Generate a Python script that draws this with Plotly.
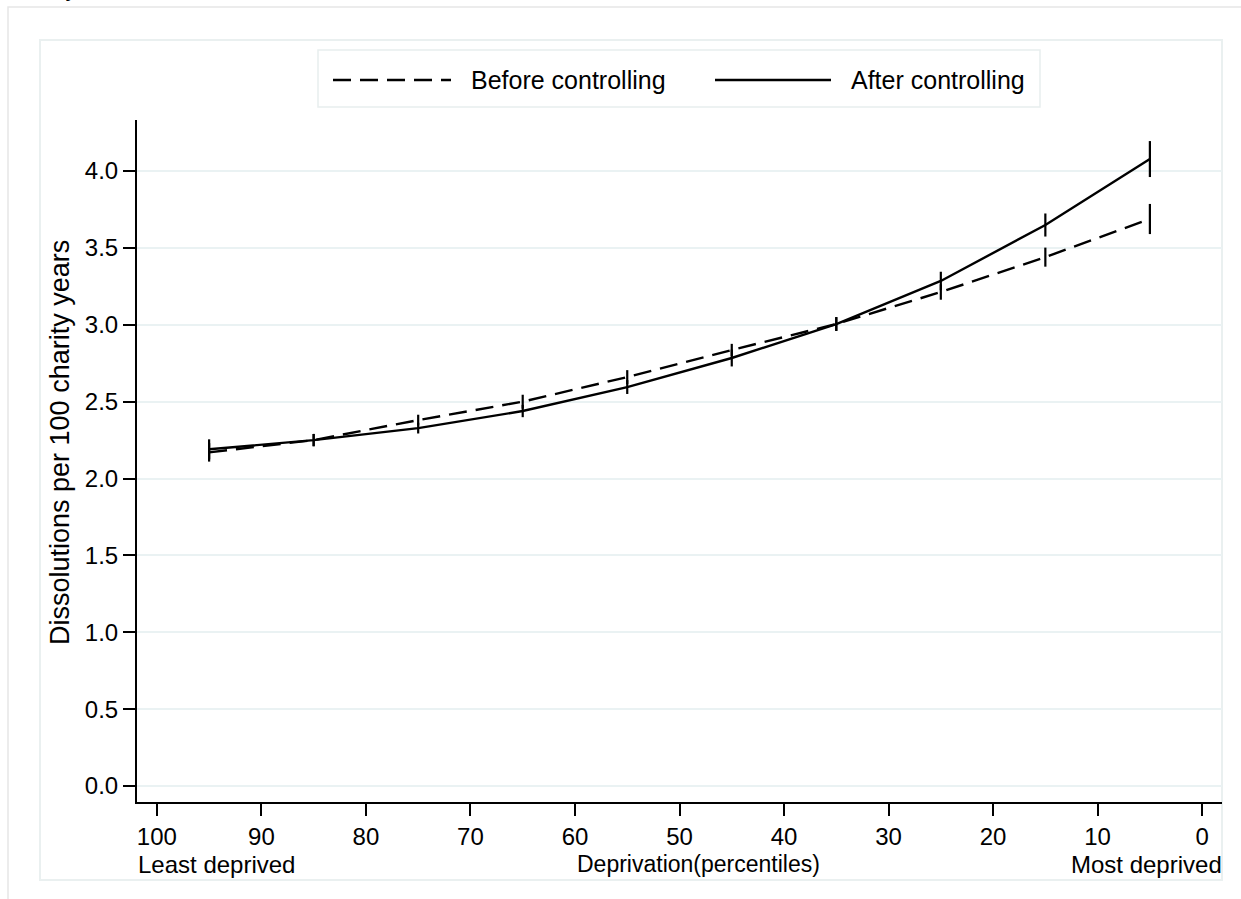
import plotly.graph_objects as go

# ---- data ----
percentile = [95, 85, 75, 65, 55, 45, 35, 25, 15, 5]
before_rate = [2.17, 2.25, 2.38, 2.50, 2.66, 2.836, 3.005, 3.213, 3.44, 3.688]
before_err = [0.06, 0.04, 0.035, 0.045, 0.045, 0.04, 0.045, 0.05, 0.062, 0.098]
after_rate = [2.19, 2.25, 2.328, 2.439, 2.595, 2.784, 3.005, 3.285, 3.649, 4.078]
after_err = [0.065, 0.04, 0.035, 0.04, 0.045, 0.055, 0.045, 0.06, 0.075, 0.117]

x_ticks = [100, 90, 80, 70, 60, 50, 40, 30, 20, 10, 0]
y_ticks = [0.0, 0.5, 1.0, 1.5, 2.0, 2.5, 3.0, 3.5, 4.0]
y_tick_text = ["0.0", "0.5", "1.0", "1.5", "2.0", "2.5", "3.0", "3.5", "4.0"]

W, H = 1241, 899
L, R, T, B = 137, 1222, 120, 802
FONT = "Arial, Liberation Sans, sans-serif"
FS = 24


def px(x):
    return (x - L) / (R - L)


def py(y):
    return (B - y) / (B - T)


fig = go.Figure()

fig.add_trace(go.Scatter(
    x=percentile, y=before_rate, mode="lines", name="Before controlling",
    line=dict(color="black", width=2.4, dash="18px,9px"),
    error_y=dict(type="data", array=before_err, visible=True, width=0,
                 thickness=2.2, color="black"),
    showlegend=False,
))
fig.add_trace(go.Scatter(
    x=percentile, y=after_rate, mode="lines", name="After controlling",
    line=dict(color="black", width=2.4),
    error_y=dict(type="data", array=after_err, visible=True, width=0,
                 thickness=2.2, color="black"),
    showlegend=False,
))

shapes = []
# outer frame (partly cut off)
shapes.append(dict(type="rect", xref="paper", yref="paper",
                   x0=px(8), x1=px(1300), y0=py(960), y1=py(7),
                   line=dict(color="#E6E6E6", width=1.5), layer="below"))
# inner graph-region frame
shapes.append(dict(type="rect", xref="paper", yref="paper",
                   x0=px(40), x1=px(1222), y0=py(880), y1=py(40),
                   line=dict(color="#EAF0F0", width=2), layer="below"))
# legend box
shapes.append(dict(type="rect", xref="paper", yref="paper",
                   x0=px(318), x1=px(1040), y0=py(107), y1=py(50),
                   line=dict(color="#E8EEEE", width=1.5), fillcolor="white",
                   layer="below"))
# legend samples
shapes.append(dict(type="line", xref="paper", yref="paper",
                   x0=px(333), x1=px(451), y0=py(80), y1=py(80),
                   line=dict(color="black", width=2.4, dash="18px,9px")))
shapes.append(dict(type="line", xref="paper", yref="paper",
                   x0=px(715), x1=px(831), y0=py(80), y1=py(80),
                   line=dict(color="black", width=2.4)))

annotations = [
    dict(text="Before controlling", xref="paper", yref="paper",
         x=px(469), y=py(80), xanchor="left", yanchor="middle",
         showarrow=False, font=dict(family=FONT, size=25, color="black")),
    dict(text="After controlling", xref="paper", yref="paper",
         x=px(849), y=py(80), xanchor="left", yanchor="middle",
         showarrow=False, font=dict(family=FONT, size=25, color="black")),
    dict(text="Least deprived", xref="paper", yref="paper",
         x=px(136), y=py(864), xanchor="left", yanchor="middle",
         showarrow=False, font=dict(family=FONT, size=FS, color="black")),
    dict(text="Deprivation(percentiles)", xref="paper", yref="paper",
         x=px(698), y=py(864), xanchor="center", yanchor="middle",
         showarrow=False, font=dict(family=FONT, size=23, color="black")),
    dict(text="Most deprived", xref="paper", yref="paper",
         x=px(1224), y=py(864), xanchor="right", yanchor="middle",
         showarrow=False, font=dict(family=FONT, size=FS, color="black")),
    dict(text="Dissolutions per 100 charity years", xref="paper", yref="paper",
         x=px(60), y=py(443), xanchor="center", yanchor="middle", textangle=-90,
         showarrow=False, font=dict(family=FONT, size=27, color="black")),
    dict(text="any", xref="paper", yref="paper",
         x=px(80), y=py(-12), xanchor="right", yanchor="middle",
         showarrow=False, font=dict(family="Liberation Serif, serif", size=24, color="black")),
]

fig.update_layout(
    width=W, height=H,
    margin=dict(l=L, r=W - R, t=T, b=H - B, pad=0),
    paper_bgcolor="white", plot_bgcolor="white",
    shapes=shapes, annotations=annotations,
    font=dict(family=FONT, size=FS, color="black"),
    xaxis=dict(
        range=[101.9, -1.9], tickvals=x_ticks, ticks="outside", ticklen=12,
        tickwidth=2, tickcolor="black", showline=True, linecolor="black",
        linewidth=2, showgrid=False, zeroline=False,
        tickfont=dict(family=FONT, size=FS, color="black"),
    ),
    yaxis=dict(
        range=[-0.104, 4.332], tickvals=y_ticks, ticktext=y_tick_text,
        ticks="outside", ticklen=12, tickwidth=2, tickcolor="black",
        showline=True, linecolor="black", linewidth=2,
        showgrid=True, gridcolor="#EAF2F3", gridwidth=2, zeroline=False,
        tickfont=dict(family=FONT, size=FS, color="black"),
    ),
)

fig.write_html("out.html")
